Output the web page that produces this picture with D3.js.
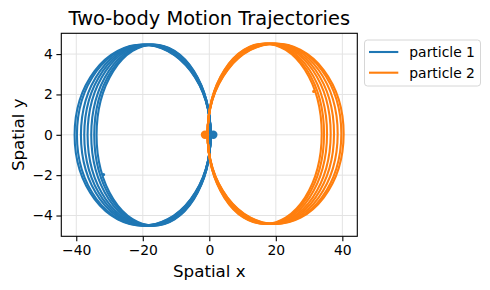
<!DOCTYPE html>
<html>
<head>
<meta charset="utf-8">
<script src="https://cdn.jsdelivr.net/npm/d3@7"></script>
<style>
  body { margin: 0; background: #fff; }
  text { font-family: "DejaVu Sans", sans-serif; fill: #000; }
</style>
</head>
<body>
<script>
// Orbit loops: outer x extent of each loop, shared inner end and heights
const p1Left = [-40.5, -39.8, -38.6, -37.6, -36.6, -35.5, -34.6, -33.9];
const p1Right = 0.4;
const p1Top = 4.47, p1Bottom = -4.5;

const p2Right = [40.4, 39.7, 38.6, 37.5, 36.5, 35.4, 34.5, 33.8];
const p2Left = -0.5;
const p2Top = 4.52, p2Bottom = -4.42;

// start (large dot) and end (small mark) positions
const startPts = [{ x: 1.2, y: 0, c: "#1f77b4" }, { x: -1.3, y: 0, c: "#ff7f0e" }];
const endPts = [{ x: -31.8, y: -1.97, c: "#1f77b4" }, { x: 31.4, y: 2.15, c: "#ff7f0e" }];

const xTicks = [-40, -20, 0, 20, 40];
const yTicks = [-4, -2, 0, 2, 4];
const seriesNames = ["particle 1", "particle 2"];
const colors = ["#1f77b4", "#ff7f0e"];

var margin = { top: 33.3, right: 132.7, bottom: 53.7, left: 61.3 },
    W = 490, H = 290;

var svg = d3.select("body").append("svg")
    .attr("width", W)
    .attr("height", H);

var x = d3.scaleLinear().domain([-44.5, 44.5]).range([margin.left, W - margin.right]);
var y = d3.scaleLinear().domain([-5.03, 5.03]).range([H - margin.bottom, margin.top]);

// grid
svg.append("g").selectAll("line.gx")
    .data(xTicks).enter().append("line")
    .attr("x1", d => x(d)).attr("x2", d => x(d))
    .attr("y1", y.range()[0]).attr("y2", y.range()[1])
    .attr("stroke", "#e3e3e3").attr("stroke-width", 1);
svg.append("g").selectAll("line.gy")
    .data(yTicks).enter().append("line")
    .attr("y1", d => y(d)).attr("y2", d => y(d))
    .attr("x1", x.range()[0]).attr("x2", x.range()[1])
    .attr("stroke", "#e3e3e3").attr("stroke-width", 1);

// build loop records from the arrays
var loops1 = p1Left.map(l => ({ l: l, r: p1Right, t: p1Top, b: p1Bottom }));
var loops2 = p2Right.map(r => ({ l: p2Left, r: r, t: p2Top, b: p2Bottom }));

var plot = svg.append("g");
[loops1, loops2].forEach(function (loops, i) {
    plot.append("g").selectAll("ellipse")
        .data(loops).enter().append("ellipse")
        .attr("cx", d => x((d.l + d.r) / 2))
        .attr("cy", d => y((d.t + d.b) / 2))
        .attr("rx", d => (x(d.r) - x(d.l)) / 2)
        .attr("ry", d => (y(d.b) - y(d.t)) / 2)
        .attr("fill", "none")
        .attr("stroke", colors[i])
        .attr("stroke-width", 2.1);
});

plot.selectAll("circle.start")
    .data(startPts).enter().append("circle")
    .attr("cx", d => x(d.x)).attr("cy", d => y(d.y))
    .attr("r", 4.2).attr("fill", d => d.c);
plot.selectAll("circle.end")
    .data(endPts).enter().append("circle")
    .attr("cx", d => x(d.x)).attr("cy", d => y(d.y))
    .attr("r", 1.6).attr("fill", d => d.c);

// axes
var xAxis = svg.append("g")
    .attr("transform", "translate(0," + y.range()[0] + ")")
    .call(d3.axisBottom(x).tickValues(xTicks).tickSize(4.9).tickPadding(3.5));
var yAxis = svg.append("g")
    .attr("transform", "translate(" + x.range()[0] + ",0)")
    .call(d3.axisLeft(y).tickValues(yTicks).tickSize(4.9).tickPadding(3.5));
[xAxis, yAxis].forEach(function (a) {
    a.select(".domain").remove();
    a.selectAll("text").style("font-size", "13.9px").style("font-family", "DejaVu Sans").attr("fill", "#000");
    a.selectAll("line").attr("stroke", "#000").attr("stroke-width", 1.1);
});

// frame
svg.append("rect")
    .attr("x", x.range()[0]).attr("y", y.range()[1])
    .attr("width", x.range()[1] - x.range()[0])
    .attr("height", y.range()[0] - y.range()[1])
    .attr("fill", "none").attr("stroke", "#000").attr("stroke-width", 1.1);

// titles
var cx = (x.range()[0] + x.range()[1]) / 2;
svg.append("text").attr("x", cx).attr("y", 25)
    .attr("text-anchor", "middle").style("font-size", "19.4px")
    .text("Two-body Motion Trajectories");
svg.append("text").attr("x", cx).attr("y", 277)
    .attr("text-anchor", "middle").style("font-size", "16.7px")
    .text("Spatial x");
svg.append("text")
    .attr("transform", "translate(24," + ((y.range()[0] + y.range()[1]) / 2) + ") rotate(-90)")
    .attr("text-anchor", "middle").style("font-size", "16.7px")
    .text("Spatial y");

// legend
var lg = svg.append("g").attr("transform", "translate(364.5,40)");
lg.append("rect")
    .attr("width", 116).attr("height", 46).attr("rx", 3)
    .attr("fill", "#fff").attr("stroke", "#d6d6d6").attr("stroke-width", 1);
seriesNames.forEach(function (name, i) {
    var row = lg.append("g").attr("transform", "translate(0," + (12 + i * 20.7) + ")");
    row.append("line").attr("x1", 4.5).attr("x2", 33.8)
        .attr("stroke", colors[i]).attr("stroke-width", 2.1);
    row.append("text").attr("x", 44.8).attr("y", 4.9)
        .style("font-size", "13.9px").text(name);
});
</script>
</body>
</html>
